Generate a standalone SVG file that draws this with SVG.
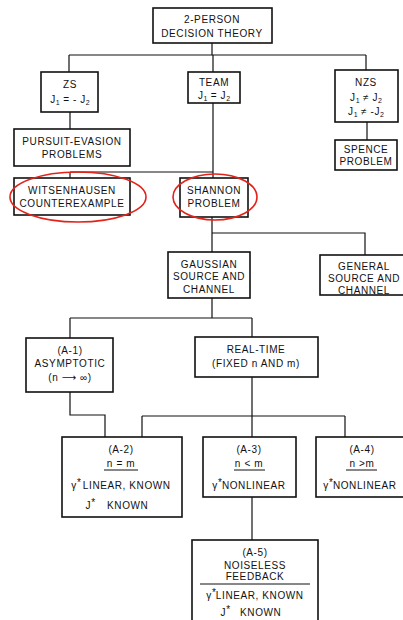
<svg xmlns="http://www.w3.org/2000/svg" width="403" height="620" viewBox="0 0 403 620">
<style>
.b{fill:#fff;stroke:#111;stroke-width:1.6}
.t{font-family:"Liberation Sans","DejaVu Sans",sans-serif;font-size:10px;letter-spacing:0.6px;fill:#111;text-anchor:middle}
.s{font-size:7px;letter-spacing:0}
.a{font-size:10px;letter-spacing:0}
.c{fill:none;stroke:#111;stroke-width:1.2}
.r{fill:none;stroke:#e2231a;stroke-width:1.6}
.u{stroke:#111;stroke-width:1}
</style>
<rect width="403" height="620" fill="#fff"/>
<g id="connectors">
<path class="c" d="M212 43V55M69 55H366M69 55V72M213 55V72M366 55V70"/>
<path class="c" d="M70 112V129M367 122V140"/>
<path class="c" d="M213 103V178M70 172H213M70 172V178"/>
<path class="c" d="M212 217V252M212 233H365V255"/>
<path class="c" d="M212 298V318M70 318H252M70 318V338M252 318V337"/>
<path class="c" d="M70 392V415H105V437"/>
<path class="c" d="M252 377V437M142 416H345M142 416V437M345 416V437"/>
<path class="c" d="M252 497V540"/>
</g>
<g id="n-root"><rect class="b" x="153" y="8" width="119" height="35"/><text class="t" x="212" y="23">2-PERSON</text><text class="t" x="212" y="37">DECISION THEORY</text></g>
<g id="n-zs"><rect class="b" x="41" y="72" width="57" height="40"/><text class="t" x="70" y="88">ZS</text><text class="t" x="70" y="103">J<tspan class="s" dy="2">1</tspan><tspan dy="-2"> = - J</tspan><tspan class="s" dy="2">2</tspan></text></g>
<g id="n-team"><rect class="b" x="188" y="72" width="52" height="31"/><text class="t" x="214" y="86">TEAM</text><text class="t" x="214" y="99">J<tspan class="s" dy="2">1</tspan><tspan dy="-2"> = J</tspan><tspan class="s" dy="2">2</tspan></text></g>
<g id="n-nzs"><rect class="b" x="335" y="70" width="63" height="52"/><text class="t" x="366" y="86">NZS</text><text class="t" x="366" y="101">J<tspan class="s" dy="2">1</tspan><tspan dy="-2"> ≠ J</tspan><tspan class="s" dy="2">2</tspan></text><text class="t" x="366" y="115">J<tspan class="s" dy="2">1</tspan><tspan dy="-2"> ≠ -J</tspan><tspan class="s" dy="2">2</tspan></text></g>
<g id="n-pursuit"><rect class="b" x="14" y="129" width="116" height="37"/><text class="t" x="72" y="145">PURSUIT-EVASION</text><text class="t" x="72" y="158">PROBLEMS</text></g>
<g id="n-spence"><rect class="b" x="335" y="140" width="62" height="30"/><text class="t" x="366" y="153">SPENCE</text><text class="t" x="366" y="165">PROBLEM</text></g>
<g id="n-witsenhausen"><rect class="b" x="14" y="178" width="116" height="37"/><text class="t" x="72" y="194">WITSENHAUSEN</text><text class="t" x="72" y="207">COUNTEREXAMPLE</text><ellipse class="r" cx="78" cy="197" rx="68" ry="25"/></g>
<g id="n-shannon"><rect class="b" x="180" y="178" width="68" height="39"/><text class="t" x="214" y="194">SHANNON</text><text class="t" x="214" y="207">PROBLEM</text><ellipse class="r" cx="215" cy="197" rx="42" ry="23"/></g>
<g id="n-gaussian"><rect class="b" x="168" y="252" width="82" height="46"/><text class="t" x="209" y="268">GAUSSIAN</text><text class="t" x="209" y="280">SOURCE AND</text><text class="t" x="209" y="293">CHANNEL</text></g>
<g id="n-general"><rect class="b" x="320" y="255" width="90" height="40"/><text class="t" x="364" y="270">GENERAL</text><text class="t" x="364" y="282">SOURCE AND</text><text class="t" x="364" y="294">CHANNEL</text></g>
<g id="n-a1"><rect class="b" x="26" y="338" width="87" height="54"/><text class="t" x="70" y="354">(A-1)</text><text class="t" x="70" y="367">ASYMPTOTIC</text><text class="t" x="70" y="381">(n ⟶ ∞)</text></g>
<g id="n-realtime"><rect class="b" x="195" y="337" width="123" height="40"/><text class="t" x="256" y="353">REAL-TIME</text><text class="t" x="256" y="367">(FIXED n AND m)</text></g>
<g id="n-a2"><rect class="b" x="62" y="437" width="120" height="80"/><text class="t" x="121" y="453">(A-2)</text><text class="t" x="121" y="467">n = m</text><line class="u" x1="104" y1="470" x2="138" y2="470"/><text class="t" x="121" y="489">γ<tspan class="a" dy="-3">*</tspan><tspan dy="3" dx="2">LINEAR, KNOWN</tspan></text><text class="t" x="117" y="509">J<tspan class="a" dy="-3">*</tspan><tspan dy="3" dx="12">KNOWN</tspan></text></g>
<g id="n-a3"><rect class="b" x="203" y="437" width="93" height="60"/><text class="t" x="249" y="453">(A-3)</text><text class="t" x="249" y="467">n &lt; m</text><line class="u" x1="234" y1="470" x2="265" y2="470"/><text class="t" x="249" y="489">γ<tspan class="a" dy="-3">*</tspan><tspan dy="3">NONLINEAR</tspan></text></g>
<g id="n-a4"><rect class="b" x="316" y="437" width="100" height="60"/><text class="t" x="362" y="453">(A-4)</text><text class="t" x="362" y="467">n &gt;m</text><line class="u" x1="346" y1="470" x2="377" y2="470"/><text class="t" x="360" y="489">γ<tspan class="a" dy="-3">*</tspan><tspan dy="3">NONLINEAR</tspan></text></g>
<g id="n-a5"><rect class="b" x="192" y="540" width="126" height="90"/><text class="t" x="255" y="556">(A-5)</text><text class="t" x="255" y="569">NOISELESS</text><text class="t" x="255" y="580">FEEDBACK</text><line class="u" x1="200" y1="584" x2="310" y2="584"/><text class="t" x="255" y="599">γ<tspan class="a" dy="-3">*</tspan><tspan dy="3">LINEAR, KNOWN</tspan></text><text class="t" x="251" y="616">J<tspan class="a" dy="-3">*</tspan><tspan dy="3" dx="10">KNOWN</tspan></text></g>
</svg>
